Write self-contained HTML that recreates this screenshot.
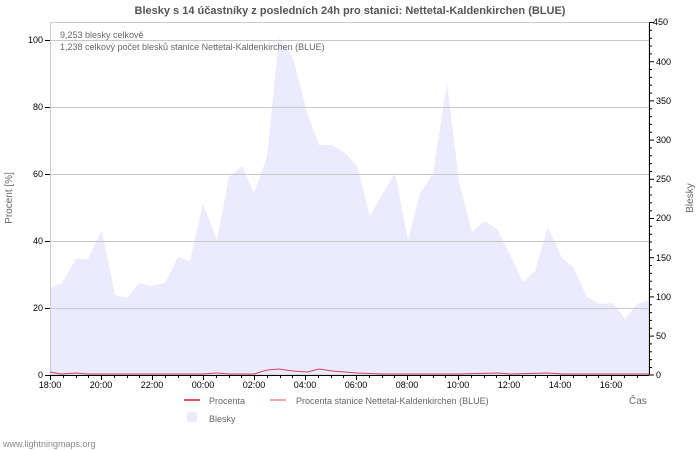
<!DOCTYPE html>
<html><head><meta charset="utf-8"><style>
body{margin:0;background:#fff;}
svg{display:block;font-family:"Liberation Sans","DejaVu Sans",sans-serif;}
</style></head><body>
<svg width="700" height="450" viewBox="0 0 700 450" xmlns="http://www.w3.org/2000/svg">
<rect width="700" height="450" fill="#fff"/>
<text x="350" y="14" text-anchor="middle" font-size="11" font-weight="bold" fill="#555">Blesky s 14 účastníky z posledních 24h pro stanici: Nettetal-Kaldenkirchen (BLUE)</text>
<polygon fill="#ebebfd" points="50,375 50,288 61.7,283 76,259 88,259 101.7,230 115,295 127,298 139,283 150,286 165,283 178,257 190,261 203,204 217,240 229,177 242,166 254,193 267,157 279,38 293,58 307,112 319,145 332,145 345,153 357,166 370,216 383,193 395,173 408,240 420,193 433,174 447,83 459,181 472,232 485,221 497,229 510,255 523,282 535,271 548,227 562,258 573,267 587,297 600,304 613,303 625,319 637,304 649,300 649,375"/>
<g stroke="#c8c8c8" stroke-width="1">
<line x1="50" y1="40.5" x2="649" y2="40.5"/>
<line x1="50" y1="107.5" x2="649" y2="107.5"/>
<line x1="50" y1="174.5" x2="649" y2="174.5"/>
<line x1="50" y1="241.5" x2="649" y2="241.5"/>
<line x1="50" y1="308.5" x2="649" y2="308.5"/>
</g>
<rect x="50.5" y="22.5" width="598.5" height="352.5" fill="none" stroke="#ccc"/>
<polyline fill="none" stroke="#d0455e" stroke-width="1" points="50,372 61,374 76,373 88,374 101,374 127,374 165,374 178,374 190,374 203,374 217,373 229,374 254,374 267,370 279,369 293,371 307,372 319,369 332,371 345,372 357,373 383,374 408,374 447,374 459,374 497,373 510,374 548,373 562,374 649,374"/>
<line x1="50" y1="375.5" x2="649" y2="375.5" stroke="#000"/>
<g stroke="#000" stroke-width="1">
<line x1="50.5" y1="375" x2="50.5" y2="380"/><line x1="101.5" y1="375" x2="101.5" y2="380"/><line x1="152.5" y1="375" x2="152.5" y2="380"/><line x1="203.5" y1="375" x2="203.5" y2="380"/><line x1="254.5" y1="375" x2="254.5" y2="380"/><line x1="305.5" y1="375" x2="305.5" y2="380"/><line x1="356.5" y1="375" x2="356.5" y2="380"/><line x1="407.5" y1="375" x2="407.5" y2="380"/><line x1="458.5" y1="375" x2="458.5" y2="380"/><line x1="509.5" y1="375" x2="509.5" y2="380"/><line x1="560.5" y1="375" x2="560.5" y2="380"/><line x1="611.5" y1="375" x2="611.5" y2="380"/>
<line x1="63.5" y1="375" x2="63.5" y2="378"/><line x1="76.5" y1="375" x2="76.5" y2="378"/><line x1="88.5" y1="375" x2="88.5" y2="378"/><line x1="114.5" y1="375" x2="114.5" y2="378"/><line x1="127.5" y1="375" x2="127.5" y2="378"/><line x1="139.5" y1="375" x2="139.5" y2="378"/><line x1="165.5" y1="375" x2="165.5" y2="378"/><line x1="178.5" y1="375" x2="178.5" y2="378"/><line x1="190.5" y1="375" x2="190.5" y2="378"/><line x1="216.5" y1="375" x2="216.5" y2="378"/><line x1="229.5" y1="375" x2="229.5" y2="378"/><line x1="241.5" y1="375" x2="241.5" y2="378"/><line x1="267.5" y1="375" x2="267.5" y2="378"/><line x1="280.5" y1="375" x2="280.5" y2="378"/><line x1="292.5" y1="375" x2="292.5" y2="378"/><line x1="318.5" y1="375" x2="318.5" y2="378"/><line x1="331.5" y1="375" x2="331.5" y2="378"/><line x1="343.5" y1="375" x2="343.5" y2="378"/><line x1="369.5" y1="375" x2="369.5" y2="378"/><line x1="382.5" y1="375" x2="382.5" y2="378"/><line x1="394.5" y1="375" x2="394.5" y2="378"/><line x1="420.5" y1="375" x2="420.5" y2="378"/><line x1="433.5" y1="375" x2="433.5" y2="378"/><line x1="445.5" y1="375" x2="445.5" y2="378"/><line x1="471.5" y1="375" x2="471.5" y2="378"/><line x1="484.5" y1="375" x2="484.5" y2="378"/><line x1="496.5" y1="375" x2="496.5" y2="378"/><line x1="522.5" y1="375" x2="522.5" y2="378"/><line x1="535.5" y1="375" x2="535.5" y2="378"/><line x1="547.5" y1="375" x2="547.5" y2="378"/><line x1="573.5" y1="375" x2="573.5" y2="378"/><line x1="586.5" y1="375" x2="586.5" y2="378"/><line x1="598.5" y1="375" x2="598.5" y2="378"/><line x1="624.5" y1="375" x2="624.5" y2="378"/><line x1="637.5" y1="375" x2="637.5" y2="378"/>
<line x1="45" y1="375.5" x2="50" y2="375.5"/><line x1="45" y1="308.5" x2="50" y2="308.5"/><line x1="45" y1="241.5" x2="50" y2="241.5"/><line x1="45" y1="174.5" x2="50" y2="174.5"/><line x1="45" y1="107.5" x2="50" y2="107.5"/><line x1="45" y1="40.5" x2="50" y2="40.5"/>
<line x1="649.5" y1="22" x2="649.5" y2="375"/>
<line x1="649" y1="22.5" x2="654" y2="22.5"/><line x1="649" y1="61.7" x2="654" y2="61.7"/><line x1="649" y1="100.9" x2="654" y2="100.9"/><line x1="649" y1="140.1" x2="654" y2="140.1"/><line x1="649" y1="179.3" x2="654" y2="179.3"/><line x1="649" y1="218.5" x2="654" y2="218.5"/><line x1="649" y1="257.7" x2="654" y2="257.7"/><line x1="649" y1="296.9" x2="654" y2="296.9"/><line x1="649" y1="336.1" x2="654" y2="336.1"/><line x1="649" y1="375" x2="654" y2="375"/>
</g>
<g stroke="#000" stroke-width="1" id="minor">
<path d="M649 30.3h3M649 38.2h3M649 46.0h3M649 53.9h3M649 69.5h3M649 77.4h3M649 85.2h3M649 93.1h3M649 108.7h3M649 116.6h3M649 124.4h3M649 132.3h3M649 147.9h3M649 155.8h3M649 163.6h3M649 171.5h3M649 187.1h3M649 195.0h3M649 202.8h3M649 210.7h3M649 226.3h3M649 234.2h3M649 242.0h3M649 249.9h3M649 265.5h3M649 273.4h3M649 281.2h3M649 289.1h3M649 304.7h3M649 312.6h3M649 320.4h3M649 328.3h3M649 343.9h3M649 351.8h3M649 359.6h3M649 367.5h3"/>
</g>
<g font-size="9" fill="#000">
<g text-anchor="end">
<text x="43" y="378">0</text><text x="43" y="311">20</text><text x="43" y="244">40</text><text x="43" y="177">60</text><text x="43" y="110">80</text><text x="43" y="43">100</text>
</g>
<text x="653" y="25">450</text><text x="656" y="65">400</text><text x="656" y="104">350</text><text x="656" y="143">300</text><text x="656" y="182">250</text><text x="656" y="221">200</text><text x="656" y="261">150</text><text x="656" y="300">100</text><text x="656" y="339">50</text><text x="656" y="378">0</text>
<g text-anchor="middle">
<text x="50" y="388">18:00</text><text x="101" y="388">20:00</text><text x="152" y="388">22:00</text><text x="203" y="388">00:00</text><text x="254" y="388">02:00</text><text x="305" y="388">04:00</text><text x="356" y="388">06:00</text><text x="407" y="388">08:00</text><text x="458" y="388">10:00</text><text x="509" y="388">12:00</text><text x="560" y="388">14:00</text><text x="611" y="388">16:00</text>
</g>
</g>
<g font-size="9" fill="#666">
<text x="60" y="38">9,253 blesky celkově</text>
<text x="60" y="50">1,238 celkový počet blesků stanice Nettetal-Kaldenkirchen (BLUE)</text>
<text x="12" y="198" text-anchor="middle" font-size="10" transform="rotate(-90 12 198)">Procent   [%]</text>
<text x="693" y="198" text-anchor="middle" font-size="10" transform="rotate(-90 693 198)">Blesky</text>
<text x="629" y="404" font-size="10">Čas</text>
<text x="209" y="404">Procenta</text>
<text x="296" y="404">Procenta stanice Nettetal-Kaldenkirchen (BLUE)</text>
<text x="209" y="422">Blesky</text>
<text x="3" y="447" font-size="9" fill="#888">www.lightningmaps.org</text>
</g>
<rect x="184" y="399" width="16" height="2" fill="#e0505f"/>
<rect x="270" y="399" width="16" height="2" fill="#f8a0a8"/>
<rect x="187" y="412" width="10" height="10" fill="#ebebfd"/>
</svg>
</body></html>
